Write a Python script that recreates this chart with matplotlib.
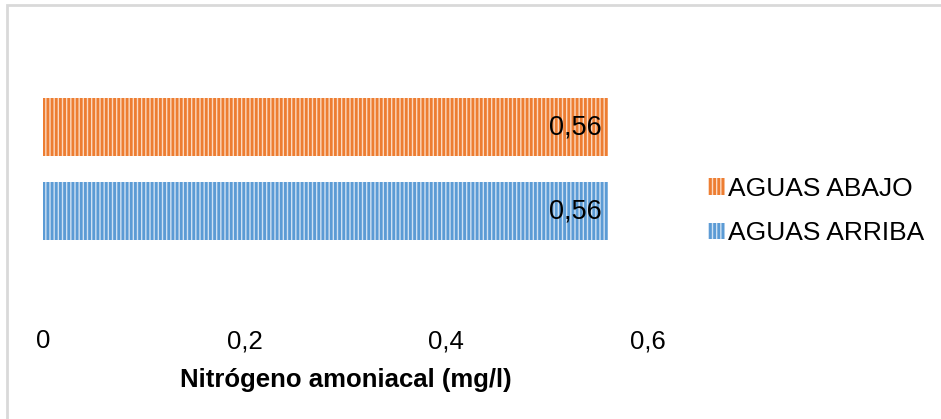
import matplotlib
matplotlib.use("Agg")
import matplotlib.pyplot as plt
from matplotlib.patches import Rectangle, Patch

plt.rcParams['font.family'] = ['Liberation Sans', 'DejaVu Sans']
plt.rcParams['hatch.linewidth'] = 2.0

series = ["AGUAS ARRIBA", "AGUAS ABAJO"]
values = [0.56, 0.56]
value_labels = ["0,56", "0,56"]
tick_values = [0, 0.2, 0.4, 0.6]
tick_labels = ["0", "0,2", "0,4", "0,6"]
xlabel = "Nitrógeno amoniacal (mg/l)"

face_colors = ["#cfe1f3", "#fbd9c1"]
stripe_colors = ["#5b9bd5", "#ed7d31"]

W, H = 941, 419
fig = plt.figure(figsize=(W / 100, H / 100), dpi=100)

# light gray chart frame (left and top edges visible)
fig.add_artist(Rectangle((7 / W, -0.1), 1.2, (H - 5) / H + 0.1, transform=fig.transFigure,
                         fill=False, edgecolor="#d9d9d9", linewidth=2))

ax_left, ax_right = 43 / W, 648 / W
ax_top, ax_bot = 40, 300
ax = fig.add_axes([ax_left, 1 - ax_bot / H, ax_right - ax_left, (ax_bot - ax_top) / H])

ypos = [0, 1]
px_per_unit = 84
center_px = 169
ax.set_ylim(0.5 - (ax_bot - center_px) / px_per_unit, 0.5 + (center_px - ax_top) / px_per_unit)
ax.set_xlim(0, 0.6)

for y, v, fc, sc, lab in zip(ypos, values, face_colors, stripe_colors, value_labels):
    ax.barh(y, v, height=58 / px_per_unit, color=fc, edgecolor=sc, hatch="||||", linewidth=0)
    ax.text(v - 0.006, y, lab, ha="right", va="center", fontsize=19.5, color="black")

for s in ax.spines.values():
    s.set_visible(False)
ax.set_yticks([])
ax.set_xticks(tick_values)
ax.set_xticklabels(tick_labels, fontsize=18.5)
ax.tick_params(axis="x", length=0, pad=21)
ax.set_xlabel(xlabel, fontsize=18.5, fontweight="bold", labelpad=11)

handles = [Patch(facecolor=face_colors[1], edgecolor=stripe_colors[1], hatch="||||", linewidth=0, label=series[1]),
           Patch(facecolor=face_colors[0], edgecolor=stripe_colors[0], hatch="||||", linewidth=0, label=series[0])]
fig.legend(handles=handles, loc="center left", bbox_to_anchor=(697 / W, 1 - 211 / H),
           frameon=False, fontsize=19, handlelength=0.65, handleheight=0.6,
           handletextpad=0.12, labelspacing=0.78, borderaxespad=0)

fig.savefig("out.png", dpi=100, facecolor="white")
